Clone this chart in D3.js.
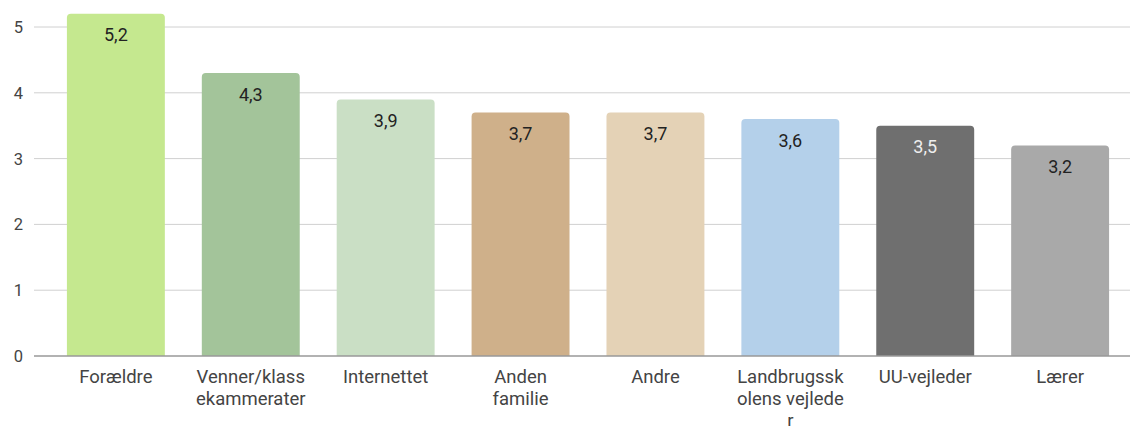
<!DOCTYPE html>
<html><head><meta charset="utf-8">
<script src="https://cdn.jsdelivr.net/npm/d3@7"></script>
<style>body{margin:0;background:#fff;}svg{display:block;font-family:Roboto,"Noto Sans",sans-serif;}</style>
</head><body><svg id="c" width="1130" height="426"></svg>
<script>
const categories = ["Forældre","Venner/klassekammerater","Internettet","Anden familie","Andre","Landbrugsskolens vejleder","UU-vejleder","Lærer"];
const categoryLines = [["Forældre"],["Venner/klass","ekammerater"],["Internettet"],["Anden","familie"],["Andre"],["Landbrugssk","olens vejlede","r"],["UU-vejleder"],["Lærer"]];
const values = [5.2,4.3,3.9,3.7,3.7,3.6,3.5,3.2];
const valueLabels = ["5,2","4,3","3,9","3,7","3,7","3,6","3,5","3,2"];
const colors = ["#c5e88f","#a3c49a","#cadfc5","#cfb08a","#e4d2b6","#b4d0ea","#6f6f6f","#a9a9a9"];
const yTicks = [0,1,2,3,4,5];

const svg = d3.select("#c");
const x0 = 34, x1 = 1142, yBase = 356, yTop = 27;
const x = d3.scaleBand().domain(categories).range([x0, x1]).paddingInner(0.274).paddingOuter(0.244);
const y = d3.scaleLinear().domain([0,5]).range([yBase, yTop]);

// gridlines
svg.append("g").selectAll("line").data(yTicks.filter(d=>d>0)).join("line")
  .attr("x1", x0).attr("x2", 1130).attr("y1", d=>y(d)).attr("y2", d=>y(d))
  .attr("stroke", "#d0d0d0").attr("stroke-width", 1);

// y tick labels
svg.append("g").selectAll("text").data(yTicks).join("text")
  .attr("x", 18.5).attr("y", d=>y(d)).attr("dy","0.36em").attr("text-anchor","middle")
  .attr("font-size", 16.5).attr("fill", "#444").text(d=>d);

// bars with rounded top corners
const r = 4;
svg.append("g").selectAll("path").data(values).join("path")
  .attr("fill", (d,i)=>colors[i])
  .attr("d", (d,i)=>{
    const bx = x(categories[i]), bw = x.bandwidth(), top = y(d), bot = y(0);
    return `M${bx},${bot}V${top+r}Q${bx},${top} ${bx+r},${top}H${bx+bw-r}Q${bx+bw},${top} ${bx+bw},${top+r}V${bot}Z`;
  });

// value labels
svg.append("g").selectAll("text").data(values).join("text")
  .attr("x", (d,i)=>x(categories[i]) + x.bandwidth()/2)
  .attr("y", d=>y(d) + 21).attr("dy","0.36em").attr("text-anchor","middle")
  .attr("font-size", 18).attr("fill", (d,i)=> i===6 ? "#eeeeee" : "#222")
  .text((d,i)=>valueLabels[i]);

// baseline
svg.append("line").attr("x1", x0).attr("x2", 1130).attr("y1", y(0)).attr("y2", y(0))
  .attr("stroke", "#999").attr("stroke-width", 1.5);

// category labels
const cg = svg.append("g").selectAll("text").data(categories).join("text")
  .attr("x", d=>x(d) + x.bandwidth()/2).attr("y", 376).attr("text-anchor","middle")
  .attr("font-size", 18.5).attr("fill", "#444");
cg.each(function(d,i){
  const t = d3.select(this);
  categoryLines[i].forEach((ln,j)=>{
    t.append("tspan").attr("x", x(d) + x.bandwidth()/2).attr("y", 376 + j*22).attr("dy","0.36em").text(ln);
  });
});
</script></body></html>
